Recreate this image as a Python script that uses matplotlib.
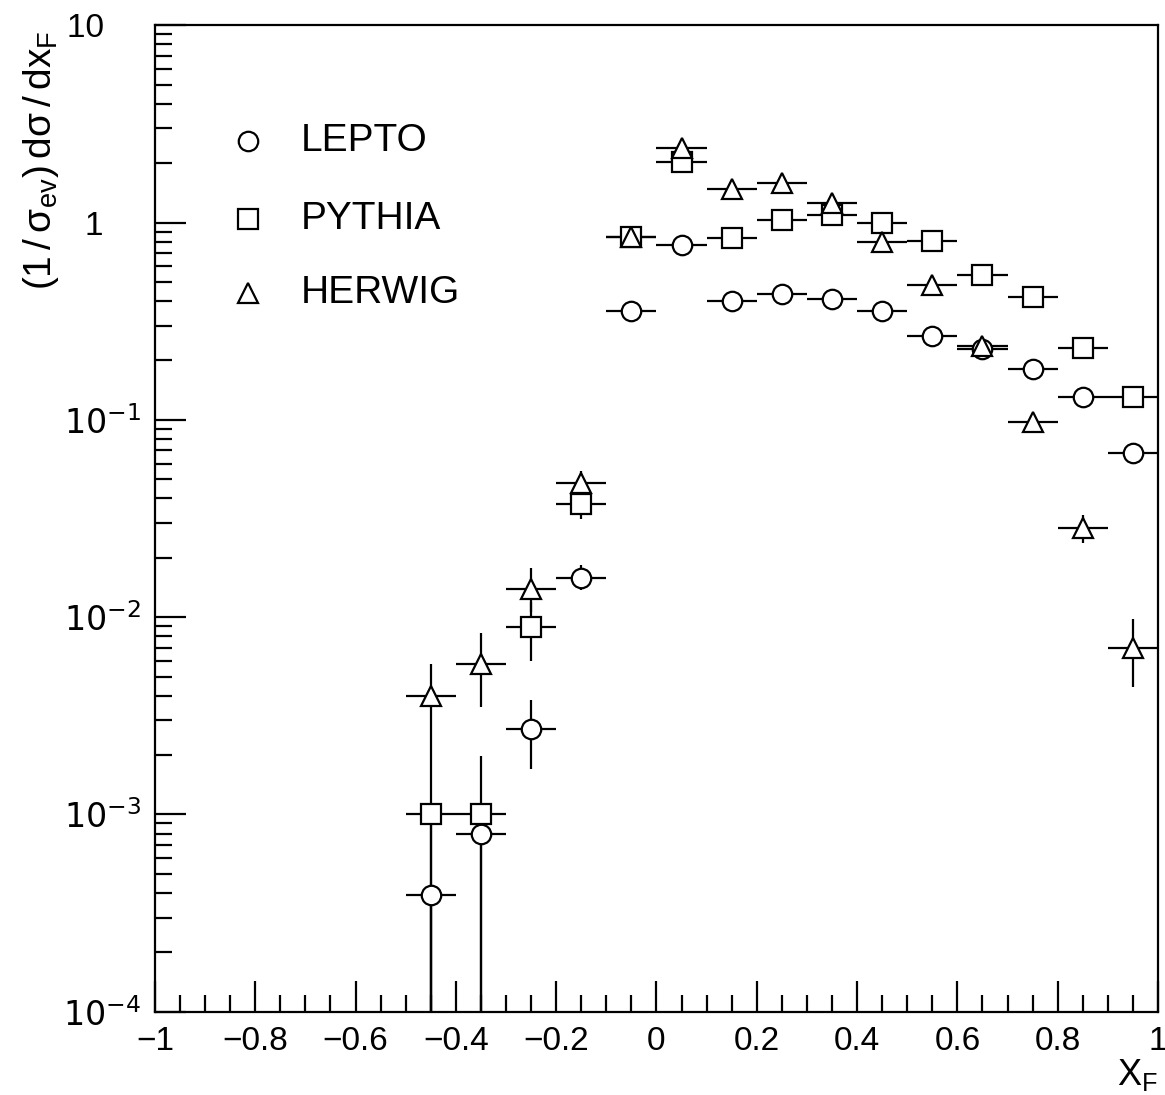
import numpy as np
import matplotlib
matplotlib.use('Agg')
import matplotlib.pyplot as plt
from matplotlib.ticker import MultipleLocator, LogLocator, NullFormatter

plt.rcParams['font.family'] = ['Liberation Sans', 'DejaVu Sans']

# bin centres in x_F
xf = [-0.45, -0.35, -0.25, -0.15, -0.05, 0.05, 0.15, 0.25, 0.35, 0.45,
      0.55, 0.65, 0.75, 0.85, 0.95]

lepto = [0.00039, 0.0008, 0.0027, 0.0158, 0.357, 0.77, 0.40, 0.436, 0.41,
         0.357, 0.267, 0.229, 0.18, 0.131, 0.068]
lepto_lo = [0.00039, 0.0008, 0.0010, 0.0020, 0, 0, 0, 0, 0, 0, 0, 0, 0, 0, 0]
lepto_hi = [0.0, 0.0, 0.0011, 0.0025, 0, 0, 0, 0, 0, 0, 0, 0, 0, 0, 0]

pythia = [0.001, 0.001, 0.0089, 0.0375, 0.84, 2.02, 0.83, 1.03, 1.09,
          0.99, 0.81, 0.54, 0.42, 0.23, 0.13]
pythia_lo = [0.001, 0.001, 0.0029, 0.006, 0, 0, 0, 0, 0, 0, 0, 0, 0, 0, 0]
pythia_hi = [0.0, 0.00097, 0.0031, 0.006, 0, 0, 0, 0, 0, 0, 0, 0, 0, 0, 0]

herwig = [0.0040, 0.0058, 0.0139, 0.048, 0.84, 2.38, 1.47, 1.58, 1.25,
          0.80, 0.48, 0.238, 0.098, 0.0283, 0.0070]
herwig_lo = [0.0040, 0.0023, 0.0033, 0.006, 0, 0, 0, 0, 0, 0, 0, 0, 0, 0.0045, 0.0026]
herwig_hi = [0.0018, 0.0025, 0.0039, 0.007, 0, 0, 0, 0, 0, 0, 0, 0, 0, 0.0045, 0.0028]

half_bin = 0.05

fig = plt.figure(figsize=(11.65, 10.95), dpi=100)
ax = fig.add_axes([0.133, 0.076, 0.861, 0.901])

series = [
    (lepto, lepto_lo, lepto_hi, 'o', 'LEPTO'),
    (pythia, pythia_lo, pythia_hi, 's', 'PYTHIA'),
    (herwig, herwig_lo, herwig_hi, '^', 'HERWIG'),
]

for vals, lo, hi, mk, name in series:
    ax.errorbar(xf, vals, xerr=half_bin, yerr=[lo, hi], fmt=mk, color='black',
                ms=14, mfc='white', mec='black', mew=1.6, elinewidth=1.6,
                capsize=0)

ax.set_yscale('log')
ax.set_xlim(-1, 1)
ax.set_ylim(1e-4, 10)

ax.xaxis.set_minor_locator(MultipleLocator(0.05))
ax.set_xticks([-1, -0.8, -0.6, -0.4, -0.2, 0, 0.2, 0.4, 0.6, 0.8, 1])
ax.set_xticklabels(['\u22121', '\u22120.8', '\u22120.6', '\u22120.4', '\u22120.2',
                    '0', '0.2', '0.4', '0.6', '0.8', '1'])

ax.set_yticks([1e-4, 1e-3, 1e-2, 1e-1, 1, 10])
ax.set_yticklabels(['$10^{-4}$', '$10^{-3}$', '$10^{-2}$', '$10^{-1}$',
                    '1\u2007\u2007', '10\u2007\u2007'])
ax.yaxis.set_minor_locator(LogLocator(base=10, subs=np.arange(2, 10)))
ax.yaxis.set_minor_formatter(NullFormatter())

ax.tick_params(which='both', direction='in', top=False, right=False,
               labelsize=24, width=1.6)
ax.tick_params(which='major', length=22, pad=10)
ax.tick_params(which='minor', length=12)
for sp in ax.spines.values():
    sp.set_linewidth(1.6)

ax.text(1.0, -0.046, '$\\mathregular{X_F}$', transform=ax.transAxes,
        ha='right', va='top', fontsize=26)
fig.text(0.035, 0.972, '$\\mathregular{(1\\,/\\,\\sigma_{ev})\\,d\\sigma\\,/\\,dx_F}$',
         rotation=90, ha='center', va='top', fontsize=28)

# legend drawn by hand
leg_y = [0.883, 0.804, 0.729]
for (vals, lo, hi, mk, name), ly in zip(series, leg_y):
    ax.plot([0.093], [ly], marker=mk, ms=14, mfc='white', mec='black', mew=1.6,
            transform=ax.transAxes, clip_on=False)
    ax.text(0.145, ly, name, transform=ax.transAxes, ha='left', va='center',
            fontsize=28)

fig.savefig('out.png', dpi=100)
